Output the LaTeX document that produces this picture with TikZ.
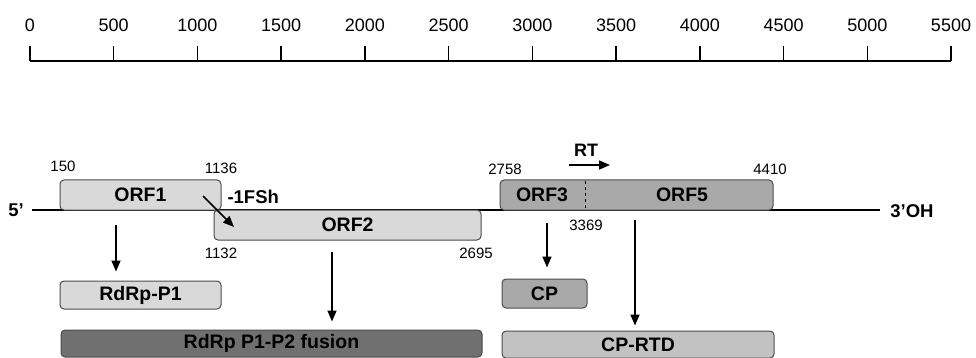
\documentclass[tikz,border=0pt]{standalone}
\usepackage{fontspec}
\setmainfont{Liberation Sans}
\usepackage{xcolor}
\usetikzlibrary{arrows.meta,positioning,calc}

\definecolor{orfpale}{HTML}{D9D9D9}
\definecolor{orfmid}{HTML}{A9A9A9}
\definecolor{orfdark}{HTML}{707070}
\definecolor{orfrtd}{HTML}{C2C2C2}

\begin{document}
\begin{tikzpicture}[
            x=1pt, y=-1pt,
            >={Triangle[length=11pt,width=9pt]},
            every node/.style={font=\fontsize{15}{17}\selectfont},
            gene/.style={draw=black!70, line width=1pt, rounded corners=4pt, inner sep=0pt, font=\fontsize{19.5}{21}\selectfont\bfseries},
            orflbl/.style={font=\fontsize{19.5}{21}\selectfont\bfseries},
            scalelbl/.style={font=\fontsize{18}{20}\selectfont},
            endlbl/.style={font=\fontsize{18.5}{20}\selectfont\bfseries},
            arr/.style={->, line width=1.6pt},
        ]
            \useasboundingbox (0,0) rectangle (976,358);
            % scale bar
            \coordinate (s0) at (30,61);
            \coordinate (s11) at (951,61);
            \draw[line width=1.4pt] (s0) -- (s11);
            \foreach \i in {0,...,11} {
                \pgfmathtruncatemacro{\v}{\i*500}
                \draw[line width=1.4pt] ($(s0)!\i/11!(s11)$) coordinate (t\i) -- ++(0,-15);
                \node[scalelbl] (l\i) at ($(t\i)+(0,-36)$) {\v};
            }
            % genome
            \node[endlbl] (five) at (16,210) {5'};
            \node[endlbl] (three) at (912,211) {3'OH};
            \coordinate (g0) at (32,210);
            \coordinate (g1) at (880,210);
            \draw[line width=1.4pt] (g0) -- (g1);
            \node[gene, fill=orfpale, minimum width=161pt, minimum height=30pt] (orf1) at (140.5,195) {ORF1};
            \node[gene, fill=orfpale, minimum width=267pt, minimum height=30pt] (orf2) at (347.5,225) {ORF2};
            \node[gene, fill=orfmid, minimum width=273pt, minimum height=30pt] (orf35) at (636.5,195) {};
            \draw[dashed, line width=1pt] (585,181) -- (585,209);
            \node[orflbl] (orf3) at (542,195) {ORF3};
            \node[orflbl] (orf5) at (682,195) {ORF5};
            % positions
            \node (n150) at (63,166) {150};
            \node (n1136) at (221,168) {1136};
            \node (n1132) at (221,253) {1132};
            \node (n2695) at (476,253) {2695};
            \node (n2758) at (505,169) {2758};
            \node (n4410) at (770,169) {4410};
            \node (n3369) at (586,225) {3369};
            \node[font=\fontsize{18.5}{20}\selectfont\bfseries, anchor=west] (fsh) at (224,197) {-1FSh};
            \node[font=\fontsize{18}{20}\selectfont\bfseries] (rt) at (586,150) {RT};
            % frameshift and readthrough
            \coordinate (fs0) at (203,196);
            \coordinate (fs1) at (234,227);
            \draw[arr] (fs0) -- (fs1);
            \coordinate (rt0) at (569,165);
            \coordinate (rt1) at (610,165);
            \draw[arr] (rt0) -- (rt1);
            % products
            \node[gene, fill=orfpale, minimum width=161pt, minimum height=28pt] (p1) at (140.5,295) {RdRp-P1};
            \node[gene, fill=orfmid, minimum width=85pt, minimum height=29pt] (cp) at (544.5,293.5) {CP};
            \node[gene, fill=orfdark, minimum width=421pt, minimum height=27pt] (fus) at (271.5,343.5) {RdRp P1-P2 fusion};
            \node[gene, fill=orfrtd, minimum width=272pt, minimum height=27pt] (rtd) at (638,344.5) {CP-RTD};
            \coordinate (a1) at (116,225);
            \coordinate (a2) at (332,252);
            \coordinate (a3) at (547,223);
            \coordinate (a4) at (635,220);
            \draw[arr, shorten >=9pt] (a1) -- (a1 |- p1.north);
            \draw[arr, shorten >=8pt] (a2) -- (a2 |- fus.north);
            \draw[arr, shorten >=11pt] (a3) -- (a3 |- cp.north);
            \draw[arr, shorten >=5pt] (a4) -- (a4 |- rtd.north);
        \end{tikzpicture}
\end{document}
